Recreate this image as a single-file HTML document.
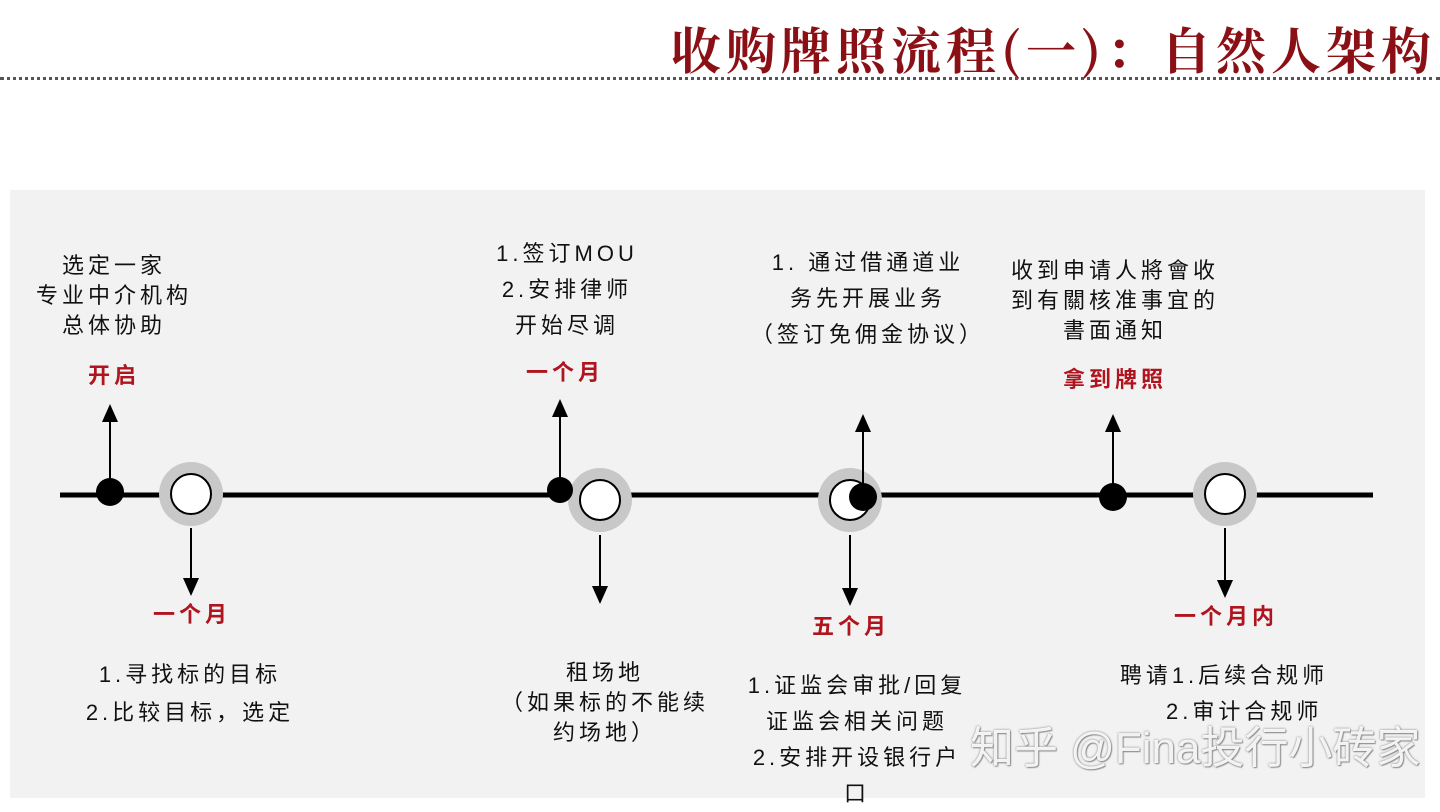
<!DOCTYPE html>
<html><head><meta charset="utf-8"><style>
body{margin:0;width:1440px;height:798px;background:#fff;position:relative;overflow:hidden;font-family:"Liberation Sans","Noto Sans CJK SC",sans-serif}
.t{position:absolute;text-align:center;font-size:22px;line-height:30px;color:#111;transform:translateX(-50%);white-space:nowrap;letter-spacing:4px}
.r{color:#b0141e;font-weight:bold;font-size:22px}
</style></head><body>
<div style="position:absolute;right:4px;top:12px;font-size:50px;font-weight:bold;color:#8b1015;font-family:'Noto Serif CJK SC','Noto Sans CJK SC',serif;letter-spacing:5px">收购牌照流程(一)：自然人架构</div>
<div style="position:absolute;left:0;top:77px;width:1440px;border-top:3px dotted #555"></div>
<div style="position:absolute;left:10px;top:190px;width:1415px;height:608px;background:#f2f2f2"></div>
<svg style="position:absolute;left:0;top:0" width="1440" height="798">
<defs><marker id="a" markerWidth="10" markerHeight="10" refX="5" refY="5" orient="auto"><path d="M0,1 L9,5 L0,9Z" fill="#000"/></marker></defs>
<line x1="60" y1="495" x2="1373" y2="495" stroke="#000" stroke-width="5"/>
<g fill="#c8c8c8"><circle cx="191" cy="494" r="32"/><circle cx="600" cy="500" r="32"/><circle cx="850" cy="500" r="32"/><circle cx="1225" cy="494" r="32"/></g>
<g fill="#fff" stroke="#000" stroke-width="2"><circle cx="191" cy="494" r="20"/><circle cx="600" cy="500" r="20"/><circle cx="850" cy="500" r="20"/><circle cx="1225" cy="494" r="20"/></g>
<g fill="#000"><circle cx="110" cy="492" r="14"/><circle cx="560" cy="490" r="13"/><circle cx="863" cy="497" r="14"/><circle cx="1113" cy="497" r="14"/></g>
<g stroke="#000" stroke-width="2" marker-end="url(#a)">
<line x1="110" y1="480" x2="110" y2="412"/><line x1="560" y1="478" x2="560" y2="407"/><line x1="863" y1="485" x2="863" y2="422"/><line x1="1113" y1="485" x2="1113" y2="422"/>
<line x1="191" y1="528" x2="191" y2="588"/><line x1="600" y1="535" x2="600" y2="596"/><line x1="850" y1="535" x2="850" y2="598"/><line x1="1225" y1="528" x2="1225" y2="590"/>
</g></svg>
<div class="t" style="left:114px;top:251px">选定一家<br>专业中介机构<br>总体协助</div>
<div class="t r" style="left:114px;top:361px">开启</div>
<div class="t" style="left:567px;top:236px;line-height:36px">1.签订MOU<br>2.安排律师<br>开始尽调</div>
<div class="t r" style="left:565px;top:358px">一个月</div>
<div class="t" style="left:868px;top:245px;line-height:36px">1. 通过借通道业<br>务先开展业务<br>（签订免佣金协议）</div>
<div class="t" style="left:1115px;top:256px">收到申请人將會收<br>到有關核准事宜的<br>書面通知</div>
<div class="t r" style="left:1115px;top:365px">拿到牌照</div>
<div class="t r" style="left:192px;top:600px">一个月</div>
<div class="t" style="left:190px;top:656px;line-height:38px">1.寻找标的目标<br>2.比较目标，选定</div>
<div class="t" style="left:605px;top:658px">租场地<br>（如果标的不能续<br>约场地）</div>
<div class="t r" style="left:851px;top:612px">五个月</div>
<div class="t" style="left:857px;top:668px;line-height:36px">1.证监会审批/回复<br>证监会相关问题<br>2.安排开设银行户<br>口</div>
<div class="t r" style="left:1226px;top:602px">一个月内</div>
<div class="t" style="left:1224px;top:658px;line-height:36px">聘请1.后续合规师<br>&nbsp;&nbsp;&nbsp;&nbsp;2.审计合规师</div>
<div style="position:absolute;left:970px;top:712px;font-size:44px;color:rgba(255,255,255,0.9);text-shadow:0 0 2px #777,1px 1px 1px #999">知乎 @Fina投行小砖家</div>
</body></html>
